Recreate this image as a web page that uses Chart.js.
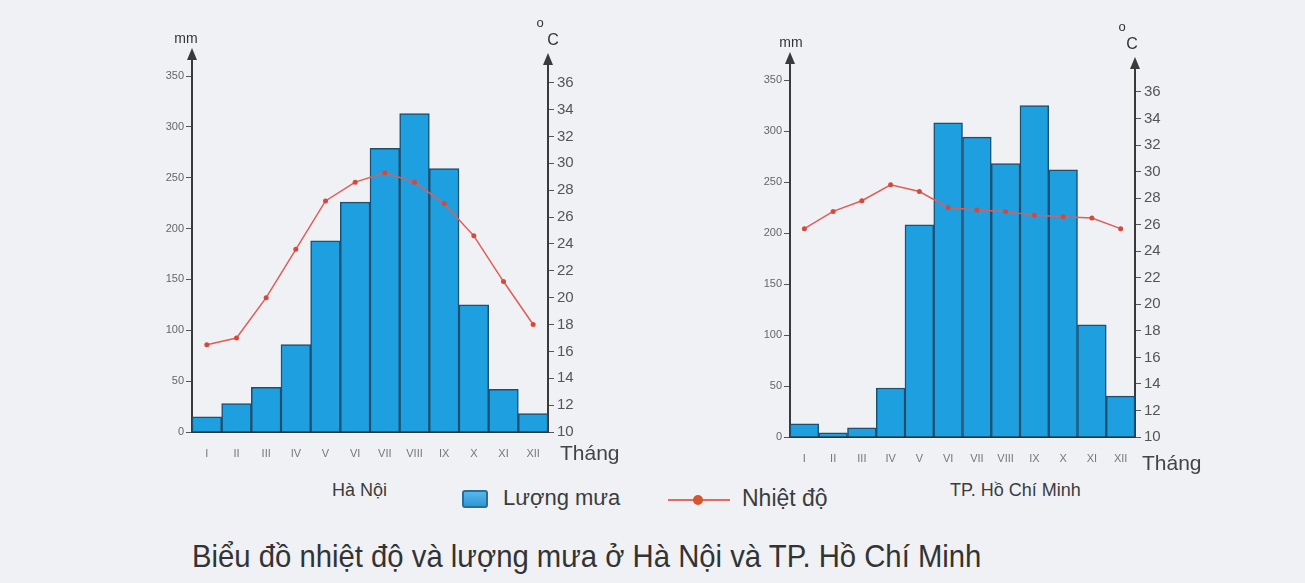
<!DOCTYPE html>
<html lang="vi">
<head>
<meta charset="UTF-8">
<title>Biểu đồ nhiệt độ và lượng mưa ở Hà Nội và TP. Hồ Chí Minh</title>
<style>
  body { margin: 0; width: 1305px; height: 583px; background: #eff1f4; position: relative; overflow: hidden;
         font-family: "Liberation Sans", Arial, sans-serif; color: #3c3c3c; }
  canvas { position: absolute; top: 0; }
  .t { position: absolute; white-space: nowrap; line-height: 1; }
</style>
<script src="https://cdn.jsdelivr.net/npm/chart.js"></script>
</head>
<body>

<canvas id="hanoi" width="500" height="470" style="left:130px"></canvas>
<canvas id="hcm" width="500" height="475" style="left:730px"></canvas>

<div class="t" style="left:332px;top:481px;font-size:18px">Hà Nội</div>
<div class="t" style="left:462px;top:490px;width:22px;height:14px;border:2px solid #2a6d96;border-radius:3px;background:linear-gradient(#5ab6ea,#2c98d8)"></div>
<div class="t" style="left:503px;top:487px;font-size:22px">Lượng mưa</div>
<div class="t" style="left:668px;top:499px;width:62px;height:2px;background:#e36a64"></div>
<div class="t" style="left:693px;top:495px;width:10px;height:10px;border-radius:50%;background:#d9532f"></div>
<div class="t" style="left:742px;top:487px;font-size:23px">Nhiệt độ</div>
<div class="t" style="left:950px;top:481px;font-size:18px">TP. Hồ Chí Minh</div>
<div class="t" style="left:192px;top:540px;font-size:32px;color:#333;transform:scaleX(0.915);transform-origin:0 0">Biểu đồ nhiệt độ và lượng mưa ở Hà Nội và TP. Hồ Chí Minh</div>

<script>
const months = ["I", "II", "III", "IV", "V", "VI", "VII", "VIII", "IX", "X", "XI", "XII"];
const hanoiRain = [15, 28, 44, 86, 188, 226, 279, 313, 259, 125, 42, 18];
const hanoiTemp = [16.5, 17.0, 20.0, 23.6, 27.2, 28.6, 29.3, 28.6, 27.0, 24.6, 21.2, 18.0];
const hcmRain = [13, 4, 9, 48, 208, 308, 294, 268, 325, 262, 110, 40];
const hcmTemp = [25.7, 27.0, 27.8, 29.0, 28.5, 27.3, 27.1, 27.0, 26.7, 26.6, 26.5, 25.7];
const rainTicks = [0, 50, 100, 150, 200, 250, 300, 350];
const tempTicks = [10, 12, 14, 16, 18, 20, 22, 24, 26, 28, 30, 32, 34, 36];

// arrows on both y axes, unit labels and "Tháng"
const axisDecor = {
  id: "axisDecor",
  afterDraw(chart, args, o) {
    const { ctx, chartArea: a } = chart;
    ctx.save();
    ctx.strokeStyle = "#3a3a3a";
    ctx.fillStyle = "#3a3a3a";
    ctx.lineWidth = 2;
    [[a.left, o.leftTip], [a.right, o.rightTip]].forEach(([x, tip]) => {
      ctx.beginPath();
      ctx.moveTo(x, a.top);
      ctx.lineTo(x, tip + 8);
      ctx.stroke();
      ctx.beginPath();
      ctx.moveTo(x, tip);
      ctx.lineTo(x - 5, tip + 12);
      ctx.lineTo(x + 5, tip + 12);
      ctx.closePath();
      ctx.fill();
    });
    ctx.fillStyle = "#333";
    ctx.textAlign = "center";
    ctx.textBaseline = "alphabetic";
    ctx.font = "14px 'Liberation Sans', sans-serif";
    ctx.fillText("mm", a.left + o.mmDx, o.leftTip - 5);
    ctx.font = "13px 'Liberation Sans', sans-serif";
    ctx.fillText("o", a.right + o.degDx, o.rightTip - 26);
    ctx.font = "16px 'Liberation Sans', sans-serif";
    ctx.fillText("C", a.right + o.cDx, o.rightTip - 8);
    ctx.textAlign = "left";
    ctx.font = "21px 'Liberation Sans', sans-serif";
    ctx.fillStyle = "#444";
    ctx.fillText("Tháng", a.right + o.thangDx, a.bottom + o.thangDy);
    ctx.restore();
  }
};

function makeChart(id, rain, temp, opt) {
  new Chart(document.getElementById(id), {
    data: {
      labels: months,
      datasets: [
        {
          type: "line", data: temp, yAxisID: "y1", order: 0,
          borderColor: "#e25c58", borderWidth: 1.5,
          pointRadius: 2.5, pointBackgroundColor: "#d8473c", pointBorderWidth: 0
        },
        {
          type: "bar", data: rain, yAxisID: "y", order: 1,
          backgroundColor: "#1e9fe0", borderColor: "#1d4f70", borderWidth: 1.5,
          categoryPercentage: 1, barPercentage: 1
        }
      ]
    },
    options: {
      responsive: false,
      animation: false,
      events: [],
      layout: { padding: { top: opt.top } },
      plugins: { legend: { display: false }, tooltip: { enabled: false }, axisDecor: opt.decor },
      scales: {
        x: {
          grid: { display: false },
          border: { color: "#333", width: 2 },
          ticks: { color: "#777", font: { size: 11 }, padding: 7, maxRotation: 0 },
          afterFit(s) { s.height = opt.xh; }
        },
        y: {
          position: "left", min: 0, max: 350,
          grid: { drawOnChartArea: false, tickLength: 6, color: "#555", lineWidth: 1 },
          border: { color: "#3a3a3a", width: 2 },
          ticks: { color: "#666", font: { size: 11 }, padding: 2 },
          afterBuildTicks(s) { s.ticks = rainTicks.map(v => ({ value: v })); },
          afterFit(s) { s.width = opt.yw; }
        },
        y1: {
          position: "right", min: 10, max: opt.tmax,
          grid: { drawOnChartArea: false, tickLength: 6, color: "#555", lineWidth: 1 },
          border: { color: "#3a3a3a", width: 2 },
          ticks: { color: "#555", font: { size: 15 }, padding: 3 },
          afterBuildTicks(s) { s.ticks = tempTicks.map(v => ({ value: v })); },
          afterFit(s) { s.width = opt.y1w; }
        }
      }
    },
    plugins: [axisDecor]
  });
}

makeChart("hanoi", hanoiRain, hanoiTemp, {
  top: 76, xh: 38, yw: 62, y1w: 82, tmax: 36.5,
  decor: { leftTip: 48, rightTip: 53, mmDx: -6, degDx: -8, cDx: 5, thangDx: 12, thangDy: 28 }
});
makeChart("hcm", hcmRain, hcmTemp, {
  top: 80, xh: 38, yw: 60, y1w: 95, tmax: 36.9,
  decor: { leftTip: 52, rightTip: 57, mmDx: 1, degDx: -13, cDx: -3, thangDx: 7, thangDy: 33 }
});
</script>
</body>
</html>
